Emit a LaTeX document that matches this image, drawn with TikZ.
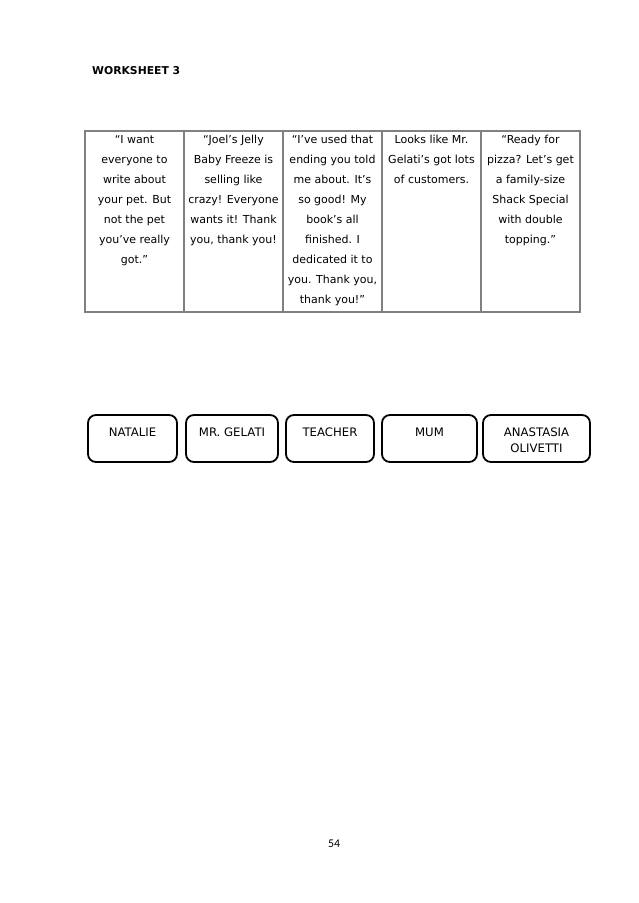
\documentclass[tikz,border=0pt]{standalone}
\usepackage{fontspec}
\setmainfont{DejaVu Sans}
\newfontfamily\pagefont{Carlito}
\begin{document}
\begin{tikzpicture}[x=1pt,y=-1pt,
  cell/.style={anchor=north,inner sep=0pt,align=center,font=\fontsize{11}{20}\selectfont},
  rule/.style={draw=black!50,line width=1.3pt},
  card/.style={draw,line width=1.8pt,rounded corners=8pt,minimum height=47pt,inner sep=0pt},
  cardtext/.style={anchor=north,inner sep=0pt,align=center,font=\fontsize{11.7}{16}\selectfont}]
  \useasboundingbox (0,0) rectangle (638,903);
  \node[anchor=base west,inner sep=0pt,font=\fontsize{10.8}{13}\selectfont\bfseries] (title) at (92,74) {WORKSHEET 3};
  \draw[rule] (85,131) rectangle (580,312);
  \draw[rule] (184,131) to (184,312);
  \draw[rule] (283,131) to (283,312);
  \draw[rule] (382,131) to (382,312);
  \draw[rule] (481,131) to (481,312);
  \node[cell] (c1) at (134.5,129) {\strut “I want\\everyone to\\write about\\your pet. But\\not the pet\\you’ve really\\got.”};
  \node[cell] (c2) at (233.5,129) {\strut “Joel’s Jelly\\Baby Freeze is\\selling like\\crazy! Everyone\\wants it! Thank\\you, thank you!};
  \node[cell] (c3) at (332.5,129) {\strut “I’ve used that\\ending you told\\me about. It’s\\so good! My\\book’s all\\finished. I\\dedicated it to\\you. Thank you,\\thank you!”};
  \node[cell] (c4) at (431.5,129) {\strut Looks like Mr.\\Gelati’s got lots\\of customers.};
  \node[cell] (c5) at (530.5,129) {\strut “Ready for\\pizza? Let’s get\\a family-size\\Shack Special\\with double\\topping.”};
  \node[card,minimum width=89pt] (natalie) at (132.5,438.5) {};
  \node[card,minimum width=92pt] (gelati) at (232,438.5) {};
  \node[card,minimum width=88pt] (teacher) at (330,438.5) {};
  \node[card,minimum width=95pt] (mum) at (429.5,438.5) {};
  \node[card,minimum width=107pt] (anastasia) at (536.5,438.5) {};
  \node[cardtext] (natalie-name) at ([yshift=-10.8pt]natalie.north) {\strut NATALIE};
  \node[cardtext] (gelati-name) at ([yshift=-10.8pt]gelati.north) {\strut MR. GELATI};
  \node[cardtext] (teacher-name) at ([yshift=-10.8pt]teacher.north) {\strut TEACHER};
  \node[cardtext] (mum-name) at ([yshift=-10.8pt]mum.north) {\strut MUM};
  \node[cardtext] (anastasia-name) at ([yshift=-10.8pt]anastasia.north) {\strut ANASTASIA\\OLIVETTI};
  \node[anchor=base,inner sep=0pt,font=\pagefont\fontsize{11.8}{14}\selectfont] (page) at (334,847) {54};
\end{tikzpicture}
\end{document}
